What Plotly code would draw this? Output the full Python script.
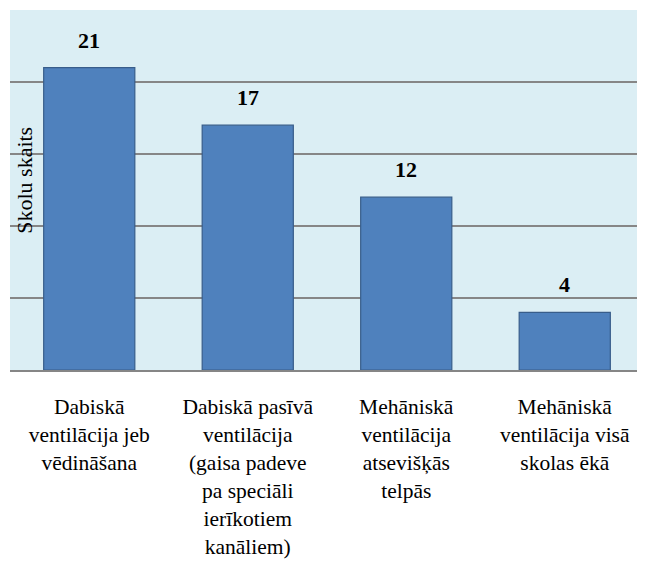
import plotly.graph_objects as go

categories = [
    "Dabiskā<br>ventilācija jeb<br>vēdināšana",
    "Dabiskā pasīvā<br>ventilācija<br>(gaisa padeve<br>pa speciāli<br>ierīkotiem<br>kanāliem)",
    "Mehāniskā<br>ventilācija<br>atsevišķās<br>telpās",
    "Mehāniskā<br>ventilācija visā<br>skolas ēkā",
]
values = [21, 17, 12, 4]
y_title = "Skolu skaits"

FONT = "Liberation Serif, Times New Roman, serif"

fig = go.Figure()
fig.add_trace(go.Bar(
    x=categories,
    y=values,
    marker=dict(color="#4f81bd", line=dict(color="#385d8a", width=1.2)),
    width=0.575,
))

for c, v in zip(categories, values):
    fig.add_annotation(
        x=c, y=v,
        text=f"<b>{v}</b>", showarrow=False,
        yanchor="bottom", yshift=13,
        font=dict(family=FONT, size=22, color="black"),
    )

fig.add_annotation(
    text=y_title, xref="paper", yref="paper",
    x=0, y=0.527, xanchor="left", yanchor="middle",
    textangle=-90, showarrow=False,
    font=dict(family=FONT, size=22, color="black"),
)

fig.update_layout(
    width=637, height=560,
    margin=dict(l=2, r=1, t=2, b=198),
    paper_bgcolor="white",
    plot_bgcolor="#dbeef4",
    showlegend=False,
    font=dict(family=FONT, size=21.5, color="black"),
    bargap=0.425,
)
fig.update_xaxes(
    showline=True, linecolor="#868686", linewidth=2,
    ticks="outside", ticklen=16, tickcolor="rgba(0,0,0,0)",
    tickfont=dict(family=FONT, size=21.5, color="black"),
    showgrid=False,
)
fig.update_yaxes(
    range=[0, 25], dtick=5, showticklabels=False,
    showgrid=True, gridcolor="#868686", gridwidth=2,
    zeroline=False,
)

fig.write_html("out.html")
